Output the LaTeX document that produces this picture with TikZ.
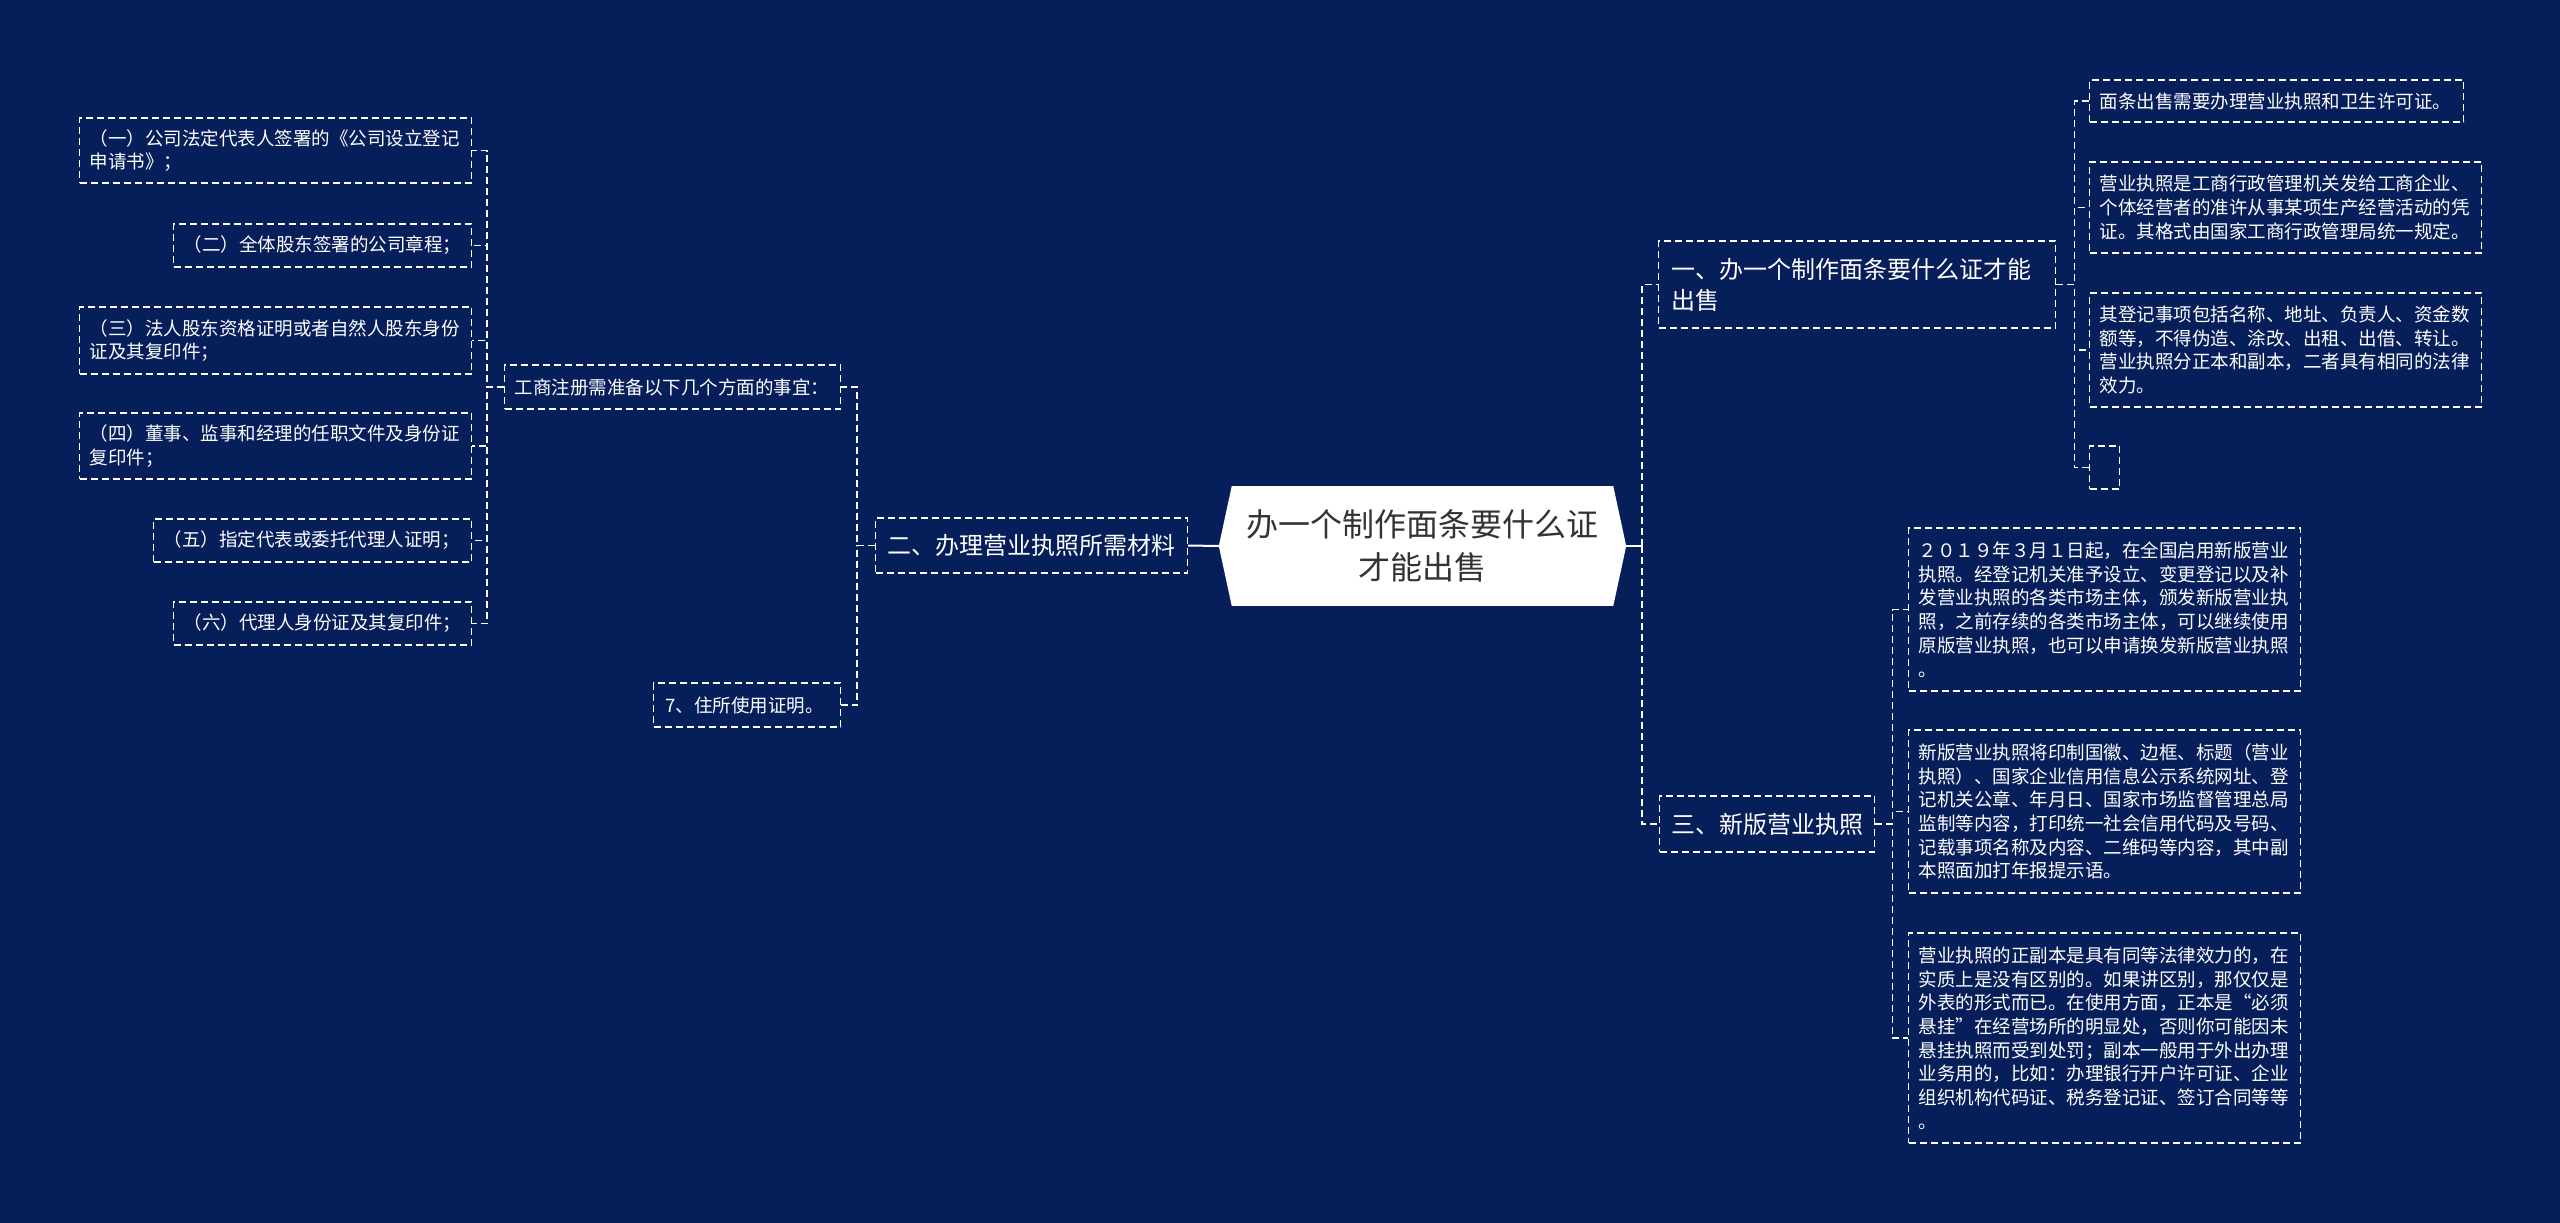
\documentclass[tikz,border=0pt]{standalone}
\usepackage{fontspec}
\newfontfamily\cjk{Noto Sans CJK SC}
\definecolor{bgc}{HTML}{061E5A}
\definecolor{ctext}{HTML}{333333}
\begin{document}
\begin{tikzpicture}[x=1pt,y=-1pt,
  dsh/.style={dash pattern=on 7pt off 4pt},
  box/.style={draw=white, line width=1.2pt, dsh, text=white, align=left, inner xsep=10pt, inner ysep=3pt, anchor=west, font=\cjk\fontsize{18.5pt}{23.7pt}\selectfont},
  big/.style={box, inner xsep=12pt, font=\cjk\fontsize{24pt}{31pt}\selectfont},
  conn/.style={draw=white, line width=1.4pt, dsh},
  solidconn/.style={draw=white, line width=2pt},
]
\fill[bgc] (0,0) rectangle (2560,1223);
\useasboundingbox (0,0) rectangle (2560,1223);

% centre
\node[fill=white, inner sep=0pt, minimum width=381pt, minimum height=120pt, align=center, text=ctext,
      font=\cjk\fontsize{32pt}{43pt}\selectfont] (c) at (1422.5,546) {办一个制作面条要什么证\\才能出售};
\coordinate (cl) at ([xshift=-13pt]c.west);
\coordinate (cr) at ([xshift=13pt]c.east);
\fill[white] (c.north west) -- (cl) -- (c.south west) -- cycle;
\fill[white] (c.north east) -- (cr) -- (c.south east) -- cycle;

% level 1
\node[big, text width=288pt, minimum height=55pt] (n2) at (875,545.5) {二、办理营业执照所需材料};
\node[big, inner xsep=13pt, text width=371pt, minimum height=87pt] (n1) at (1658,284.5) {一、办一个制作面条要什么证才能\\出售};
\node[big, inner xsep=11.5pt, text width=192pt, minimum height=56pt] (n3) at (1659,824) {三、新版营业执照};

% left level 2
\node[box, text width=316pt, minimum height=44pt] (b1) at (504,387) {工商注册需准备以下几个方面的事宜：};
\node[box, inner xsep=12pt, text width=163pt, minimum height=44pt] (b2) at (653,705) {7、住所使用证明。};

% left leaves
\node[box, text width=372pt, minimum height=65pt] (a1) at (79,150.5) {（一）公司法定代表人签署的《公司设立登记\\申请书》；};
\node[box, text width=278pt, minimum height=43pt] (a2) at (173,245.5) {（二）全体股东签署的公司章程；};
\node[box, text width=372pt, minimum height=67pt] (a3) at (79,340.5) {（三）法人股东资格证明或者自然人股东身份\\证及其复印件；};
\node[box, text width=372pt, minimum height=66pt] (a4) at (79,446) {（四）董事、监事和经理的任职文件及身份证\\复印件；};
\node[box, text width=298pt, minimum height=43pt] (a5) at (153,540.5) {（五）指定代表或委托代理人证明；};
\node[box, text width=278pt, minimum height=43pt] (a6) at (173,623.5) {（六）代理人身份证及其复印件；};

% right leaves of n1
\node[box, text width=354pt, minimum height=42pt] (r1) at (2089,101) {面条出售需要办理营业执照和卫生许可证。};
\node[box, text width=372pt, minimum height=91pt] (r2) at (2089,207.5) {营业执照是工商行政管理机关发给工商企业、\\个体经营者的准许从事某项生产经营活动的凭\\证。其格式由国家工商行政管理局统一规定。};
\node[box, text width=372pt, minimum height=114pt] (r3) at (2089,350) {其登记事项包括名称、地址、负责人、资金数\\额等，不得伪造、涂改、出租、出借、转让。\\营业执照分正本和副本，二者具有相同的法律\\效力。};
\node[box, inner sep=0pt, minimum width=30pt, minimum height=43pt] (r4) at (2089,467.5) {};

% right leaves of n3
\node[box, text width=372pt, minimum height=163pt] (s1) at (1908,609.5) {２０１９年３月１日起，在全国启用新版营业\\执照。经登记机关准予设立、变更登记以及补\\发营业执照的各类市场主体，颁发新版营业执\\照，之前存续的各类市场主体，可以继续使用\\原版营业执照，也可以申请换发新版营业执照\\。};
\node[box, text width=372pt, minimum height=163pt] (s2) at (1908,811.5) {新版营业执照将印制国徽、边框、标题（营业\\执照）、国家企业信用信息公示系统网址、登\\记机关公章、年月日、国家市场监督管理总局\\监制等内容，打印统一社会信用代码及号码、\\记载事项名称及内容、二维码等内容，其中副\\本照面加打年报提示语。};
\node[box, text width=372pt, minimum height=210pt] (s3) at (1908,1038) {营业执照的正副本是具有同等法律效力的，在\\实质上是没有区别的。如果讲区别，那仅仅是\\外表的形式而已。在使用方面，正本是“必须\\悬挂”在经营场所的明显处，否则你可能因未\\悬挂执照而受到处罚；副本一般用于外出办理\\业务用的，比如：办理银行开户许可证、企业\\组织机构代码证、税务登记证、签订合同等等\\。};

% connectors
\coordinate (sp) at (1642,546);
\draw[solidconn] (n2.east) -- (cl);
\draw[solidconn] (cr) -- (sp);
\draw[conn] (sp) |- (n1.west);
\draw[conn] (sp) |- (n3.west);

\foreach \t in {b1,b2} \draw[conn] (n2.west) -- ++(-18,0) |- (\t.east);
\foreach \t in {a1,a2,a3,a4,a5,a6} \draw[conn] (b1.west) -- ++(-17,0) |- (\t.east);
\foreach \t in {r1,r2,r3,r4} \draw[conn] (n1.east) -- ++(18,0) |- (\t.west);
\foreach \t in {s1,s2,s3} \draw[conn] (n3.east) -- ++(17,0) |- (\t.west);
\end{tikzpicture}
\end{document}
